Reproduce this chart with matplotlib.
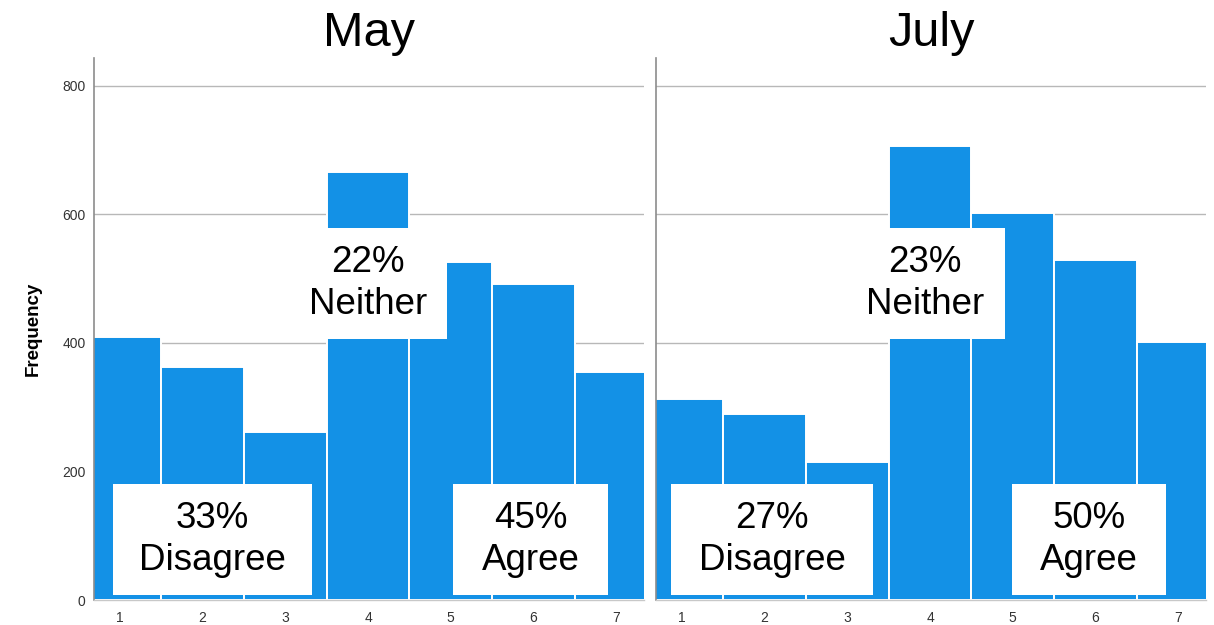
"""Two-panel histogram of agreement scores, May vs July."""
import matplotlib.pyplot as plt
from matplotlib.patches import Rectangle

plt.rcParams['font.family'] = ['Liberation Sans', 'DejaVu Sans']

SCALE = [1, 2, 3, 4, 5, 6, 7]
MAY_COUNTS = [409, 363, 261, 666, 526, 492, 355]
JULY_COUNTS = [313, 290, 215, 706, 602, 529, 402]
PANEL_TITLES = ["May", "July"]
Y_TICKS = [0, 200, 400, 600, 800]

MAY_LABELS = ["33%\nDisagree", "22%\nNeither", "45%\nAgree"]
JULY_LABELS = ["27%\nDisagree", "23%\nNeither", "50%\nAgree"]

BAR_COLOR = "#1391e6"
GRID_COLOR = "#b8b8b8"

# box positions in axes fraction: (x, y, width, height)
MAY_BOXES = [(0.0345, 0.009, 0.362, 0.205),
             (0.3545, 0.4815, 0.287, 0.205),
             (0.653, 0.009, 0.282, 0.205)]
JULY_BOXES = [(0.0273, 0.009, 0.367, 0.205),
              (0.3436, 0.4815, 0.291, 0.205),
              (0.647, 0.009, 0.28, 0.205)]


def _draw_panel(ax, counts, title, labels, boxes):
    ax.bar(SCALE, counts, width=1.0, color=BAR_COLOR,
           edgecolor="white", linewidth=1.4, zorder=2)
    ax.set_xlim(0.686, 7.336)
    ax.set_ylim(0, 843)
    ax.set_yticks(Y_TICKS)
    ax.set_xticks(SCALE)
    ax.grid(axis="y", color=GRID_COLOR, linewidth=1.0, zorder=0)
    ax.set_axisbelow(True)
    for side in ("top", "right"):
        ax.spines[side].set_visible(False)
    ax.spines["left"].set_color("#8c8c8c")
    ax.spines["left"].set_linewidth(1.2)
    ax.spines["bottom"].set_color("#c8c8c8")
    ax.spines["bottom"].set_linewidth(1.0)
    ax.tick_params(axis="both", length=0, labelsize=10, colors="#333333")
    ax.tick_params(axis="x", pad=8)
    ax.tick_params(axis="y", pad=6)
    ax.set_title(title, fontsize=35, pad=9)
    for text, (bx, by, bw, bh) in zip(labels, boxes):
        ax.add_patch(Rectangle((bx, by), bw, bh, transform=ax.transAxes,
                               facecolor="white", edgecolor="none",
                               zorder=5))
        ax.text(bx + bw / 2, by + bh / 2, text, transform=ax.transAxes,
                ha="center", va="center", fontsize=26.5, linespacing=1.25,
                zorder=6)


def _main() -> None:
    fig = plt.figure(figsize=(12.14, 6.25), dpi=100)
    ax_may = fig.add_axes([94 / 1214, 25 / 625, 550 / 1214, 542 / 625])
    ax_july = fig.add_axes([656 / 1214, 25 / 625, 550 / 1214, 542 / 625])

    _draw_panel(ax_may, MAY_COUNTS, PANEL_TITLES[0], MAY_LABELS, MAY_BOXES)
    _draw_panel(ax_july, JULY_COUNTS, PANEL_TITLES[1], JULY_LABELS,
                JULY_BOXES)

    ax_may.set_ylabel("Frequency", fontsize=13.5, fontweight="bold")
    ax_may.yaxis.set_label_coords(-0.095, 0.5)
    ax_july.tick_params(axis="y", labelleft=False)

    fig.savefig("out.png", dpi=100, facecolor="white")


if __name__ == "__main__":
    _main()
